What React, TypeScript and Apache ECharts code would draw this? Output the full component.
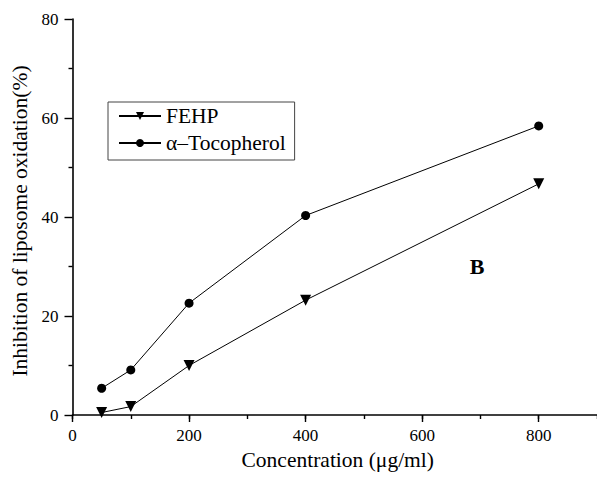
import React, { useEffect, useRef } from "react";
import * as echarts from "echarts";

const concentrations = [50, 100, 200, 400, 800];
const fehp = [0.5, 1.7, 10.0, 23.2, 46.7];
const tocopherol = [5.4, 9.1, 22.6, 40.3, 58.4];
const seriesNames = ["FEHP", "α–Tocopherol"];
const xTitle = "Concentration (μg/ml)";
const yTitle = "Inhibition of liposome oxidation(%)";
const panelLabel = "B";

const FONT = "'Liberation Serif', 'Times New Roman', serif";

export default function App() {
  const ref = useRef<HTMLDivElement>(null);
  useEffect(() => {
    if (!ref.current) return;
    const chart = echarts.init(ref.current, null, { renderer: "svg" });
    const pair = (ys: number[]) => concentrations.map((x, i) => [x, ys[i]]);
    chart.setOption({
      animation: false,
      backgroundColor: "#ffffff",
      textStyle: { fontFamily: FONT, color: "#000" },
      grid: { left: 72.5, right: -7, top: 19, bottom: 68, containLabel: false },
      legend: {
        left: 108,
        top: 102,
        orient: "vertical",
        data: seriesNames,
        padding: [3, 9, 6, 10],
        itemWidth: 42,
        itemHeight: 10,
        itemGap: 5,
        borderColor: "#444",
        borderWidth: 1,
        textStyle: { fontFamily: FONT, fontSize: 21.5, color: "#000", lineHeight: 22 },
      },
      xAxis: [
        {
          type: "value",
          min: 0,
          max: 900,
          interval: 200,
          position: "bottom",
          name: xTitle,
          nameLocation: "middle",
          nameGap: 20,
          nameTextStyle: { fontFamily: FONT, fontSize: 21.5, color: "#000", padding: [0, 0, 0, 6] },
          axisLine: { show: true, onZero: false, lineStyle: { color: "#000", width: 1.6 } },
          axisTick: { show: true, length: 7, lineStyle: { color: "#000", width: 1.4 } },
          axisLabel: { show: true, margin: 12, fontSize: 17, color: "#000", fontFamily: FONT, showMaxLabel: false },
          splitLine: { show: false },
        },
        {
          type: "value",
          min: 0,
          max: 900,
          interval: 100,
          position: "bottom",
          offset: 0,
          axisLine: { show: false },
          axisTick: { show: true, length: 4, lineStyle: { color: "#000", width: 1.4 } },
          axisLabel: { show: false },
          splitLine: { show: false },
        },
      ],
      yAxis: {
        type: "value",
        min: 0,
        max: 80,
        interval: 20,
        name: yTitle,
        nameLocation: "middle",
        nameGap: 42,
        nameTextStyle: { fontFamily: FONT, fontSize: 21.5, color: "#000", padding: [0, 8, 0, 0] },
        axisLine: { show: true, onZero: false, lineStyle: { color: "#000", width: 1.6 } },
        axisTick: { show: true, length: 8, lineStyle: { color: "#000", width: 1.4 } },
        minorTick: { show: true, splitNumber: 2, length: 4, lineStyle: { color: "#000", width: 1.4 } },
        axisLabel: { show: true, margin: 14, fontSize: 17, color: "#000", fontFamily: FONT },
        splitLine: { show: false },
        minorSplitLine: { show: false },
      },
      series: [
        {
          name: seriesNames[0],
          type: "line",
          data: pair(fehp),
          symbol: "triangle",
          symbolRotate: 180,
          symbolSize: 11,
          itemStyle: { color: "#000" },
          lineStyle: { color: "#000", width: 1 },
        },
        {
          name: seriesNames[1],
          type: "line",
          data: pair(tocopherol),
          symbol: "circle",
          symbolSize: 9,
          itemStyle: { color: "#000" },
          lineStyle: { color: "#000", width: 1 },
        },
      ],
      graphic: [
        {
          type: "text",
          x: 477,
          y: 266,
          style: {
            text: panelLabel,
            fontFamily: FONT,
            fontSize: 22,
            fontWeight: "bold",
            fill: "#000",
            align: "center",
            verticalAlign: "middle",
          },
        },
      ],
    });
    return () => chart.dispose();
  }, []);
  return <div ref={ref} style={{ width: 597, height: 483, position: "absolute", left: 0, top: 0 }} />;
}
